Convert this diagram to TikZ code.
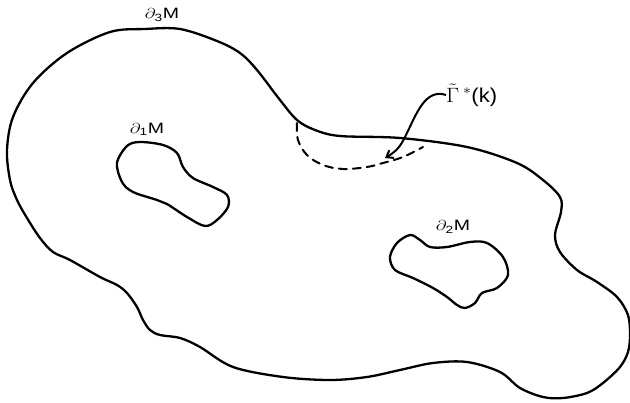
\documentclass[tikz,border=0pt]{standalone}
\usepackage{fontspec}
\setmainfont{Liberation Sans}
\usetikzlibrary{arrows.meta}
\tikzset{
  rim/.style={line width=2.3pt, line join=round},
  cut/.style={line width=2pt, dash pattern=on 8pt off 6pt, line cap=round},
  pointer/.style={line width=2pt, -{Straight Barb[length=6pt,width=9pt,line width=2pt]}},
  tag/.style={inner sep=0pt, font=\fontsize{15}{15}\selectfont}
}
\newcommand{\bdry}[1]{\scalebox{1.3}[1]{$\partial_{\mathrm{#1}}$M}}
\begin{document}
\begin{tikzpicture}[x=1pt,y=-1pt]
\useasboundingbox (0,0) rectangle (630,403);
% outer boundary
\draw[rim] plot[smooth cycle, tension=0.55] coordinates {
 (67,53) (110,32) (145,29) (180,29) (217,41) (240,53) (257,70) (280,100)
 (297,120) (315,130) (340,136) (400,138) (467,147) (517,163) (543,180)
 (560,197) (561,212) (555,235) (560,252) (577,270) (597,282) (617,297)
 (628,315) (630,335) (628,352) (620,367) (603,383) (587,393) (563,398)
 (543,397) (520,388) (500,372) (467,362) (433,363) (400,370) (367,377)
 (330,380) (283,377) (233,367) (200,347) (180,338) (160,335) (150,330)
 (143,320) (137,307) (127,293) (117,285) (100,277) (70,260) (53,252)
 (40,238) (27,218) (17,200) (10,180) (7,150) (13,117) (33,83)};
% first hole
\draw[rim] plot[smooth cycle, tension=0.55] coordinates {
 (140,142) (127,146) (117,163) (122,182) (133,192) (157,200) (167,204)
 (187,217) (205,226) (217,220) (228,207) (227,195) (213,187) (193,178)
 (183,167) (177,153) (163,145)};
% second hole
\draw[rim] plot[smooth cycle, tension=0.55] coordinates {
 (410,235) (397,243) (390,257) (395,270) (413,278) (433,288) (447,297)
 (457,305) (465,308) (475,303) (482,293) (497,288) (508,275) (503,257)
 (487,243) (470,242) (447,247) (430,247) (420,240)};
% dashed arc
\draw[cut] plot[smooth, tension=0.6] coordinates {
 (297,123) (298,140) (307,155) (323,165) (343,169) (367,167) (383,163)
 (403,157) (423,147)};
% labels
\node[tag] (b3) at (162,15) {\bdry{3}};
\node[tag] (b1) at (147,129) {\bdry{1}};
\node[tag] (b2) at (453,227) {\bdry{2}};
\node[inner sep=0pt, anchor=west, font=\fontsize{20}{20}\selectfont] (gam) at (446,95)
  {\scalebox{1.1}[1]{$\tilde{\Gamma}$\,$^{*}$(k)}};
\coordinate (tip) at (385,158);
\draw[pointer] (gam.west) .. controls (425,88) and (416,115) .. (406,135)
  .. controls (400,148) and (395,152) .. (tip);
\end{tikzpicture}
\end{document}
